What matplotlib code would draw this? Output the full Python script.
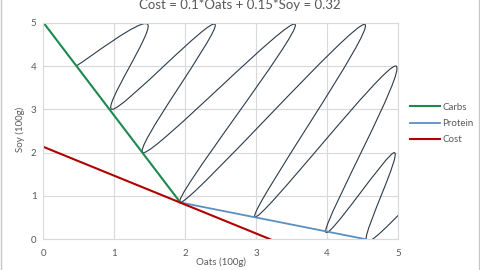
import matplotlib
matplotlib.use("Agg")
import matplotlib.pyplot as plt
import numpy as np
from matplotlib.path import Path
from matplotlib.patches import PathPatch
from matplotlib.lines import Line2D

# Daten
carbs_x = [0.0, 1.93]
carbs_y = [5.0, 0.85]
protein_x = [1.93, 4.55]
protein_y = [0.85, 0.0]
cost_x = [0.0, 3.2]
cost_y = [2.133, 0.0]
# Schraffur (geglättete Linie wie in Excel)
schraffur_x = [0.46, 1.47, 0.97, 2.42, 1.41, 3.55, 1.93, 4.53, 2.98, 4.97, 3.98, 4.95, 4.55, 5.05]
schraffur_y = [4.0, 4.96, 3.0, 4.96, 2.0, 4.96, 0.85, 4.96, 0.52, 4.0, 0.19, 2.0, 0.0, 0.62]

ticks = [0, 1, 2, 3, 4, 5]

plt.rcParams["font.family"] = ["Lato", "DejaVu Sans"]
textfarbe = "#595959"
gitter = "#d9d9d9"


# Glatte Kurve durch die Punkte (Bezier, Catmull-Rom)
def glatte_kurve(xs, ys):
    p = np.column_stack([xs, ys])
    n = len(p)
    verts = [p[0]]
    codes = [Path.MOVETO]
    for i in range(n - 1):
        p0 = p[i - 1] if i > 0 else p[i]
        p1 = p[i]
        p2 = p[i + 1]
        p3 = p[i + 2] if i + 2 < n else p[i + 1]
        c1 = p1 + (p2 - p0) / 6
        c2 = p2 - (p3 - p1) / 6
        verts += [c1, c2, p2]
        codes += [Path.CURVE4] * 3
    return Path(verts, codes)


fig = plt.figure(figsize=(4.8, 2.7), dpi=100)
ax = fig.add_axes([0.0906, 0.1137, 0.7385, 0.8023])

ax.set_xlim(0, 5)
ax.set_ylim(0, 5)
ax.set_xticks(ticks)
ax.set_yticks(ticks)
ax.grid(color=gitter, linewidth=0.8)
ax.set_axisbelow(True)
for s in ax.spines.values():
    s.set_color(gitter)
    s.set_linewidth(0.8)
ax.tick_params(axis="x", length=0, labelsize=7, colors=textfarbe, pad=7)
ax.tick_params(axis="y", length=0, labelsize=7, colors=textfarbe, pad=5)

patch = PathPatch(glatte_kurve(schraffur_x, schraffur_y), facecolor="none",
                  edgecolor="#2b3a4a", linewidth=0.8)
ax.add_patch(patch)

ax.plot(carbs_x, carbs_y, color="#1a8a4e", linewidth=1.5, label="Carbs")
ax.plot(protein_x, protein_y, color="#5b8fbf", linewidth=1.3, label="Protein")
ax.plot(cost_x, cost_y, color="#b00000", linewidth=1.5, label="Cost")

ax.legend(loc="center left", bbox_to_anchor=(1.01, 0.535), frameon=False,
          fontsize=7, labelcolor=textfarbe, handlelength=3.1, handletextpad=0.2,
          labelspacing=0.75)

fig.text(0.5, 0.968, "Cost = 0.1*Oats + 0.15*Soy = 0.32", ha="center", va="baseline",
         fontsize=9.5, color=textfarbe)
fig.text(0.46, 0.03, "Oats (100g)", ha="center", va="center", fontsize=7, color=textfarbe)
fig.text(0.042, 0.52, "Soy (100g)", ha="center", va="center", rotation=90,
         fontsize=7, color=textfarbe)

# Rahmen
fig.add_artist(Line2D([0.003, 0.003], [0, 1], color="#c8c8c8", linewidth=1))
fig.add_artist(Line2D([0.997, 0.997], [0, 1], color="#c8c8c8", linewidth=1))

fig.savefig("out.png", dpi=100)
